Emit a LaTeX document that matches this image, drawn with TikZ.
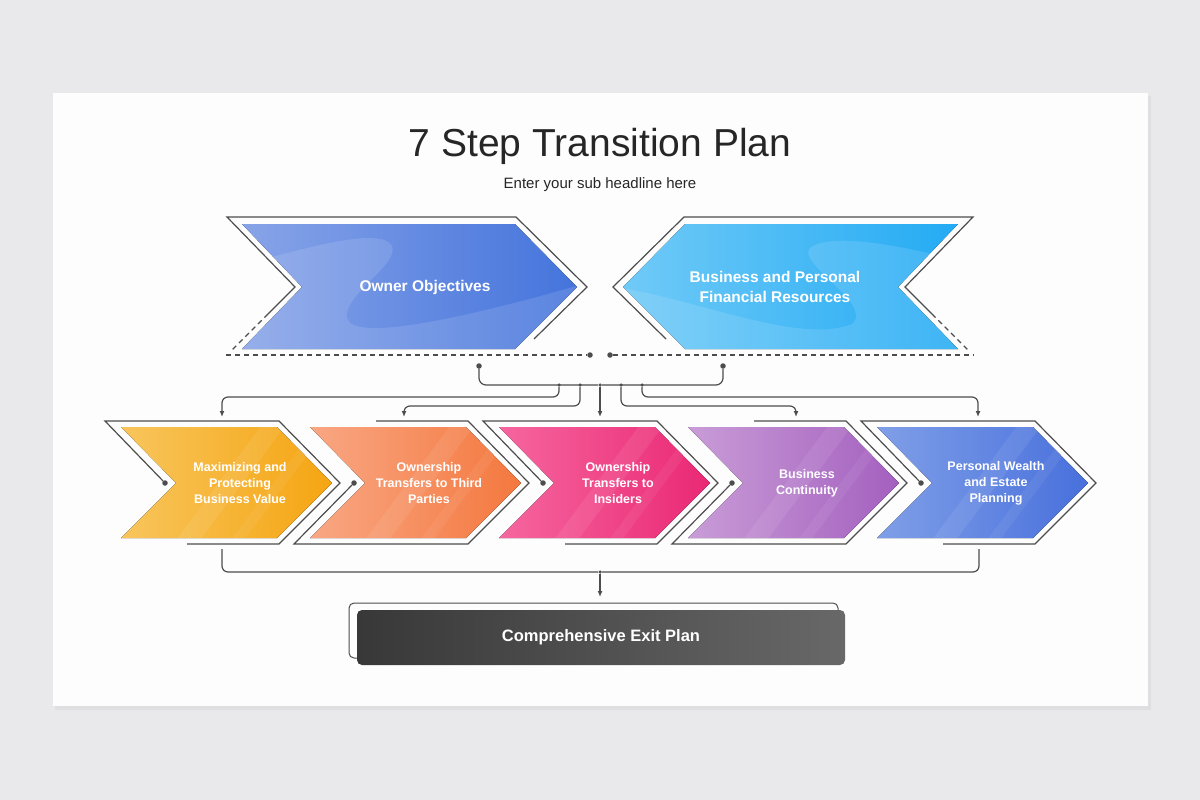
\documentclass[tikz,border=0pt]{standalone}
\usepackage{fontspec}
\setmainfont{Liberation Sans}
\usetikzlibrary{positioning,arrows.meta}
\usepackage{xcolor}

\definecolor{bgc}{HTML}{E9E8EA}
\definecolor{cardc}{HTML}{FDFDFD}
\definecolor{wirec}{HTML}{4D4D4D}
\definecolor{titlec}{HTML}{262626}
\definecolor{ownA}{HTML}{88A4E8}
\definecolor{ownB}{HTML}{4474DC}
\definecolor{bizA}{HTML}{70CAF7}
\definecolor{bizB}{HTML}{24ABF4}
\definecolor{yelA}{HTML}{F8C55C}
\definecolor{yelB}{HTML}{F5A512}
\definecolor{ornA}{HTML}{F9A784}
\definecolor{ornB}{HTML}{F4783E}
\definecolor{pnkA}{HTML}{F6669F}
\definecolor{pnkB}{HTML}{EA2874}
\definecolor{purA}{HTML}{C99CD7}
\definecolor{purB}{HTML}{A460BF}
\definecolor{bluA}{HTML}{809FE8}
\definecolor{bluB}{HTML}{4870DC}
\definecolor{exitA}{HTML}{383838}
\definecolor{exitB}{HTML}{686868}

\begin{document}
\begin{tikzpicture}[x=1pt,y=-1pt,
    wire/.style = {draw=wirec, line width=1.2pt},
    dot/.style = {circle, fill=wirec, inner sep=0pt, minimum size=5.5pt},
    joint/.style = {circle, fill=wirec, inner sep=0pt, minimum size=3.5pt},
    lbl/.style = {text=white, font=\bfseries\fontsize{12.5}{16}\selectfont, align=center, inner sep=0pt},
    biglbl/.style = {text=white, font=\bfseries\fontsize{15.5}{20}\selectfont, align=center, inner sep=0pt},
    rowshape/.style = {insert path={(#1,427) -- ++(156,0) -- ++(55,56) -- ++(-55,55) -- ++(-156,0) -- ++(55,-55) -- cycle}},
    >={Latex[length=6pt,width=5pt]}]

  % page and card
  \fill[bgc] (0,0) rectangle (1200,800);
  \fill[black,opacity=.04] (55,96) rectangle (1151,710);
  \fill[cardc] (53,93) rectangle (1148,706);

  \node[font=\fontsize{39}{46}\selectfont, text=titlec, anchor=base] (title) at (600,156) {7 Step Transition Plan};
  \node[font=\fontsize{15}{18}\selectfont, text=titlec, anchor=base] (sub) at (600,188) {Enter your sub headline here};

  % top chevrons
  \fill[left color=ownA, right color=ownB] (242,224) -- (515,224) -- (577,287) -- (515,349) -- (242,349) -- (302,287) -- cycle;
  \begin{scope}
    \clip (242,224) -- (515,224) -- (577,287) -- (515,349) -- (242,349) -- (302,287) -- cycle;
    \fill[white,opacity=.12] (230,268) .. controls (300,250) and (380,225) .. (392,246) .. controls (400,264) and (342,296) .. (347,318) .. controls (352,342) and (460,320) .. (590,282) -- (590,360) -- (230,360) -- cycle;
  \end{scope}
  \fill[left color=bizA, right color=bizB] (958,224) -- (685,224) -- (623,287) -- (685,349) -- (958,349) -- (898,287) -- cycle;
  \begin{scope}
    \clip (958,224) -- (685,224) -- (623,287) -- (685,349) -- (958,349) -- (898,287) -- cycle;
    \fill[white,opacity=.12] (615,287) .. controls (700,300) and (800,345) .. (852,324) .. controls (875,305) and (795,262) .. (810,248) .. controls (830,232) and (900,245) .. (965,262) -- (965,360) -- (615,360) -- cycle;
  \end{scope}
  \node[biglbl] (own) at (425,287) {Owner Objectives};
  \node[biglbl] (biz) at (775,287) {Business and Personal\\Financial Resources};

  \draw[wire] (534,339) -- (587,287) -- (516,217) -- (227,217) -- (295,287) -- (268,314);
  \draw[wire, dash pattern=on 5pt off 4pt] (268,314) -- (230,352);
  \draw[wire] (666,339) -- (613,287) -- (684,217) -- (973,217) -- (905,287) -- (932,314);
  \draw[wire, dash pattern=on 5pt off 4pt] (932,314) -- (970,352);

  \node[dot] (dA) at (590,355) {};
  \node[dot] (dB) at (610,355) {};
  \coordinate (eA) at (226,355);
  \coordinate (eB) at (974,355);
  \draw[wire, dash pattern=on 5pt off 4pt] (eA) -- (dA);
  \draw[wire, dash pattern=on 5pt off 4pt] (dB) -- (eB);

  % splitter
  \node[dot] (dL) at (479,366) {};
  \node[dot] (dR) at (723,366) {};
  \node[joint] (hub) at (600,385) {};
  \node[joint] (j1) at (559,385) {};
  \node[joint] (j2) at (580,385) {};
  \node[joint] (j3) at (621,385) {};
  \node[joint] (j4) at (642,385) {};
  \draw[wire, rounded corners=7pt] (dL) |- (hub) -| (dR);

  \coordinate (a1) at (222,417);
  \coordinate (a2) at (404,417);
  \coordinate (a3) at (600,417);
  \coordinate (a4) at (796,417);
  \coordinate (a5) at (978,417);
  \draw[wire, ->, rounded corners=6pt] (j1) -- ++(0,12) -| (a1);
  \draw[wire, ->, rounded corners=6pt] (j2) -- ++(0,21) -| (a2);
  \draw[wire, ->] (hub) -- (a3);
  \draw[wire, ->, rounded corners=6pt] (j3) -- ++(0,21) -| (a4);
  \draw[wire, ->, rounded corners=6pt] (j4) -- ++(0,12) -| (a5);

  % five steps
  \foreach \L/\ca/\cb/\odd/\txt [count=\i] in {
      121/yelA/yelB/1/{Maximizing and\\Protecting\\Business Value},
      310/ornA/ornB/0/{Ownership\\Transfers to Third\\Parties},
      499/pnkA/pnkB/1/{Ownership\\Transfers to\\Insiders},
      688/purA/purB/0/{Business\\Continuity},
      877/bluA/bluB/1/{Personal Wealth\\and Estate\\Planning}} {
    \fill[left color=\ca, right color=\cb] [rowshape=\L];
    \begin{scope}
      \clip [rowshape=\L];
      \fill[white,opacity=.08] (\L+40,560) -- (\L+152,410) -- (\L+176,410) -- (\L+64,560) -- cycle;
      \fill[white,opacity=.06] (\L+95,560) -- (\L+207,410) -- (\L+220,410) -- (\L+108,560) -- cycle;
    \end{scope}
    \node[lbl] (s\i) at (\L+119,483) {\txt};
    \node[dot] (n\i) at (\L+44,483) {};
    \ifnum\odd=1
      \draw[wire] (n\i) -- (\L-16,421) -- (\L+158,421) -- (\L+219,483) -- (\L+158,544) -- (\L+66,544);
    \else
      \draw[wire] (\L+66,421) -- (\L+158,421) -- (\L+219,483) -- (\L+158,544) -- (\L-16,544) -- (n\i);
    \fi
  }

  % gather into exit plan
  \coordinate (b1) at (222,549);
  \coordinate (b5) at (979,549);
  \node[joint] (hub2) at (600,572) {};
  \coordinate (ex) at (600,597);
  \draw[wire, rounded corners=6pt] (b1) |- (hub2) -| (b5);
  \draw[wire, ->] (hub2) -- (ex);

  \draw[wire, line width=1pt, rounded corners=5pt] (349,603) rectangle (838,658);
  \node[rounded corners=5pt, left color=exitA, right color=exitB, minimum width=488pt, minimum height=55pt,
        text=white, font=\bfseries\fontsize{16.5}{20}\selectfont] (exit) at (601,637.5) {Comprehensive Exit Plan};
\end{tikzpicture}
\end{document}
